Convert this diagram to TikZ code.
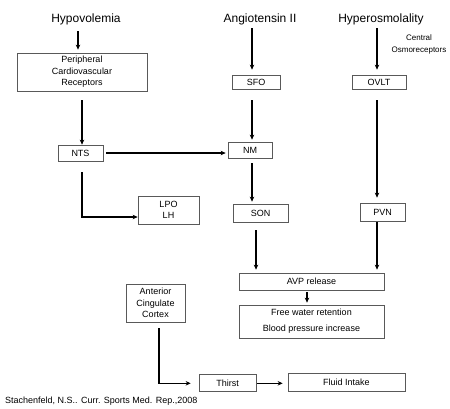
\documentclass[tikz,border=0pt]{standalone}
\usepackage{fontspec}
\setmainfont{Liberation Sans}
\usetikzlibrary{arrows.meta}

\tikzset{
    box/.style={draw=black!65, line width=0.7pt, align=center, inner sep=0pt,
        font=\fontsize{9}{11.5}\selectfont},
    title/.style={inner sep=0pt, font=\fontsize{12}{14}\selectfont},
    arr/.style={-{Stealth[length=5pt,width=4.5pt]}, line width=1.1pt}
}

\begin{document}
\begin{tikzpicture}[x=1pt, y=-1pt]
        \useasboundingbox (0,0) rectangle (450,408);

        % Add stimuli
        \node[title] (hypo) at (86,19) {Hypovolemia};
        \node[title] (angio) at (260,19) {Angiotensin II};
        \node[title] (hyper) at (381,19) {Hyperosmolality};
        \node[align=center, inner sep=0pt, font=\fontsize{8}{12}\selectfont] (central) at (419,44) {Central\\Osmoreceptors};

        % Draw the boxes
        \node[box, minimum width=130pt, minimum height=38pt] (periph) at (82,72) {Peripheral\\Cardiovascular\\Receptors};
        \node[box, minimum width=48pt, minimum height=14pt] (sfo) at (256,82) {SFO};
        \node[box, minimum width=54pt, minimum height=14pt] (ovlt) at (379,82) {OVLT};
        \node[box, minimum width=45pt, minimum height=16pt] (nts) at (80.5,153) {NTS};
        \node[box, minimum width=44pt, minimum height=16pt] (nm) at (250,150) {NM};
        \node[box, minimum width=61pt, minimum height=28pt] (lpo) at (168.5,210) {LPO\\LH};
        \node[box, minimum width=55pt, minimum height=18pt] (son) at (260.5,213) {SON};
        \node[box, minimum width=45pt, minimum height=18pt] (pvn) at (382.5,212) {PVN};
        \node[box, minimum width=145pt, minimum height=17pt] (avp) at (311.5,281.5) {AVP release};
        \node[box, minimum width=145pt, minimum height=33pt] (free) at (311.5,321.5) {Free water retention\\[4.5pt]Blood pressure increase};
        \node[box, minimum width=59pt, minimum height=38pt] (acc) at (155.5,303) {Anterior\\Cingulate\\Cortex};
        \node[box, minimum width=57pt, minimum height=17pt] (thirst) at (227.5,383.3) {Thirst};
        \node[box, minimum width=117pt, minimum height=18pt] (fluid) at (346.5,382) {Fluid Intake};

        % Draw the arrows
        \draw[arr, shorten <=6.5pt, shorten >=3pt] ([xshift=-8pt]hypo.south) -- ([xshift=-8pt]hypo.south |- periph.north);
        \draw[arr, shorten <=9pt] (periph.south) -- (periph.south |- nts.north);
        \draw[arr, shorten <=3pt, shorten >=2pt] (nts.east) -- (nts.east -| nm.west);
        \draw[arr, shorten <=11pt] ([xshift=1.5pt]nts.south) |- ([yshift=-7pt]lpo.west);
        \draw[arr, shorten <=3.5pt, shorten >=5pt] ([xshift=-8pt]angio.south) -- ([xshift=-8pt]angio.south |- sfo.north);
        \draw[arr, shorten <=11pt, shorten >=2pt] ([xshift=-4pt]sfo.south) -- ([xshift=-4pt]sfo.south |- nm.north);
        \draw[arr, shorten <=5pt, shorten >=2pt] ([xshift=2pt]nm.south) -- ([xshift=2pt]nm.south |- son.north);
        \draw[arr, shorten <=3.5pt, shorten >=5pt] ([xshift=-4pt]hyper.south) -- ([xshift=-4pt]hyper.south |- ovlt.north);
        \draw[arr, shorten <=11pt, shorten >=5pt] ([xshift=-2pt]ovlt.south) -- ([xshift=-2pt]ovlt.south |- pvn.north);
        \draw[arr, shorten <=8pt, shorten >=3pt] ([xshift=-4.5pt]son.south) -- ([xshift=-4.5pt]son.south |- avp.north);
        \draw[arr, shorten <=1pt, shorten >=3pt] ([xshift=-5.5pt]pvn.south) -- ([xshift=-5.5pt]pvn.south |- avp.north);
        \draw[arr, shorten <=2pt, shorten >=2pt] ([xshift=-4.5pt]avp.south) -- ([xshift=-4.5pt]avp.south |- free.north);
        \draw[arr, shorten <=6pt, shorten >=8pt] ([xshift=3.5pt]acc.south) |- (thirst.west);
        \draw[arr, shorten <=1pt, shorten >=5pt] (thirst.east) -- (thirst.east -| fluid.west);

        % Add source
        \node[anchor=west, inner sep=0pt, font=\fontsize{9}{11}\selectfont] (cite) at (5,401) {Stachenfeld, N.S.. Curr. Sports Med. Rep.,2008};
    \end{tikzpicture}
\end{document}
